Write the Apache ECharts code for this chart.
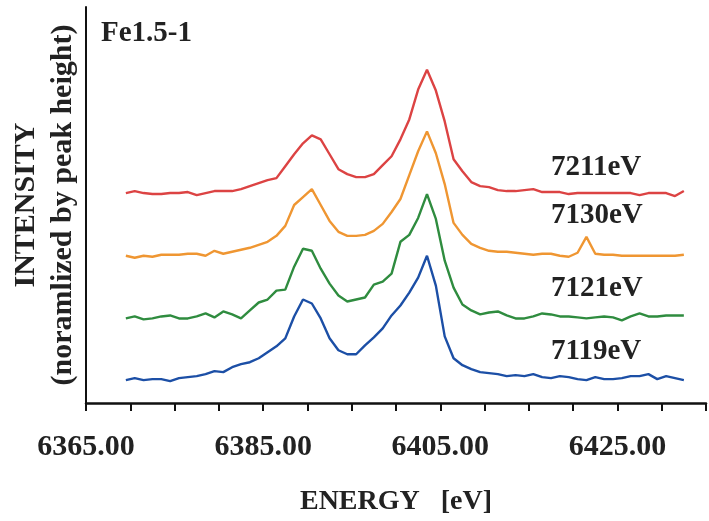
<!DOCTYPE html>
<html>
<head>
<meta charset="utf-8">
<title>Fe1.5-1</title>
<script src="https://cdn.jsdelivr.net/npm/echarts@6/dist/echarts.min.js"></script>
<style>
  html, body { margin: 0; padding: 0; background: #fff; }
  #chart { width: 709px; height: 521px; }
</style>
</head>
<body>
<div id="chart"></div>
<script>
// energy grid (eV)
const energy = [
  6369.5, 6370.5, 6371.5, 6372.5, 6373.5, 6374.5, 6375.5, 6376.5, 6377.5, 6378.5,
  6379.5, 6380.5, 6381.5, 6382.5, 6383.5, 6384.5, 6385.5, 6386.5, 6387.5, 6388.5,
  6389.5, 6390.5, 6391.5, 6392.5, 6393.5, 6394.5, 6395.5, 6396.5, 6397.5, 6398.5,
  6399.5, 6400.5, 6401.5, 6402.5, 6403.5, 6404.5, 6405.5, 6406.5, 6407.5, 6408.5,
  6409.5, 6410.5, 6411.5, 6412.5, 6413.5, 6414.5, 6415.5, 6416.5, 6417.5, 6418.5,
  6419.5, 6420.5, 6421.5, 6422.5, 6423.5, 6424.5, 6425.5, 6426.5, 6427.5, 6428.5,
  6429.5, 6430.5, 6431.5, 6432.5
];

// stacked intensities (already offset), one array per excitation energy
const i7211 = [
  2.11, 2.13, 2.11, 2.10, 2.10, 2.11, 2.11, 2.12, 2.09, 2.11,
  2.13, 2.13, 2.13, 2.15, 2.18, 2.21, 2.24, 2.26, 2.38, 2.50,
  2.61, 2.69, 2.65, 2.50, 2.35, 2.30, 2.27, 2.27, 2.30, 2.39,
  2.48, 2.65, 2.85, 3.15, 3.35, 3.14, 2.83, 2.45, 2.33, 2.22,
  2.18, 2.17, 2.14, 2.13, 2.13, 2.14, 2.15, 2.12, 2.12, 2.12,
  2.10, 2.11, 2.11, 2.11, 2.11, 2.11, 2.11, 2.11, 2.09, 2.11,
  2.11, 2.11, 2.08, 2.13
];
const i7130 = [
  1.48, 1.46, 1.48, 1.47, 1.49, 1.49, 1.49, 1.50, 1.50, 1.48,
  1.53, 1.50, 1.52, 1.54, 1.56, 1.59, 1.62, 1.68, 1.78, 1.99,
  2.07, 2.15, 1.99, 1.83, 1.72, 1.68, 1.68, 1.69, 1.73, 1.80,
  1.92, 2.05, 2.29, 2.53, 2.73, 2.51, 2.20, 1.81, 1.69, 1.60,
  1.56, 1.53, 1.52, 1.52, 1.51, 1.50, 1.49, 1.50, 1.50, 1.48,
  1.47, 1.51, 1.67, 1.50, 1.49, 1.49, 1.48, 1.48, 1.48, 1.48,
  1.48, 1.48, 1.48, 1.49
];
const i7121 = [
  0.85, 0.87, 0.84, 0.85, 0.87, 0.88, 0.85, 0.85, 0.87, 0.90,
  0.86, 0.92, 0.89, 0.85, 0.93, 1.01, 1.04, 1.13, 1.14, 1.37,
  1.55, 1.53, 1.35, 1.20, 1.08, 1.02, 1.04, 1.06, 1.19, 1.22,
  1.30, 1.62, 1.69, 1.86, 2.10, 1.85, 1.43, 1.16, 0.99, 0.93,
  0.89, 0.91, 0.92, 0.88, 0.85, 0.85, 0.87, 0.90, 0.89, 0.87,
  0.87, 0.86, 0.85, 0.86, 0.87, 0.86, 0.83, 0.87, 0.90, 0.87,
  0.87, 0.88, 0.88, 0.88
];
const i7119 = [
  0.23, 0.25, 0.23, 0.24, 0.24, 0.22, 0.25, 0.26, 0.27, 0.29,
  0.32, 0.31, 0.36, 0.39, 0.41, 0.45, 0.51, 0.57, 0.65, 0.87,
  1.04, 1.00, 0.85, 0.65, 0.53, 0.49, 0.49, 0.58, 0.66, 0.75,
  0.88, 0.98, 1.11, 1.26, 1.48, 1.18, 0.67, 0.45, 0.38, 0.34,
  0.31, 0.30, 0.29, 0.27, 0.28, 0.27, 0.29, 0.26, 0.25, 0.27,
  0.26, 0.24, 0.23, 0.26, 0.24, 0.24, 0.25, 0.27, 0.27, 0.29,
  0.24, 0.27, 0.25, 0.23
];

const seriesNames = ["7119eV", "7121eV", "7130eV", "7211eV"];
const seriesColors = ["#1c4fa6", "#2f8c3f", "#ef9632", "#dc4343"];
const seriesValues = [i7119, i7121, i7130, i7211];

const serif = '"Liberation Serif", "Times New Roman", serif';

let chart = echarts.init(document.getElementById("chart"));

let series = seriesValues.map(function (vals, i) {
    return {
        name: seriesNames[i],
        type: "line",
        data: energy.map(function (e, j) { return [e, vals[j]]; }),
        showSymbol: false,
        lineStyle: { color: seriesColors[i], width: 2.4 },
        itemStyle: { color: seriesColors[i] },
    };
});

// curve labels on the right
const labelY = [351, 288, 215, 167];
let labels = seriesNames.map(function (n, i) {
    return {
        type: "text",
        left: 551,
        top: labelY[i] - 14,
        style: {
            text: n,
            font: "bold 29px " + serif,
            fill: "#222",
        },
    };
});

chart.setOption({
    animation: false,
    backgroundColor: "#fff",
    title: {
        text: "Fe1.5-1",
        left: 101,
        top: 19,
        padding: 0,
        textStyle: {
            fontFamily: serif,
            fontWeight: "bold",
            fontSize: 29,
            color: "#222",
        },
    },
    grid: {
        left: 82,
        right: -5,
        top: 7,
        bottom: 116,
        containLabel: false,
    },
    xAxis: {
        type: "value",
        min: 6365,
        max: 6435,
        interval: 5,
        name: "ENERGY   [eV]",
        nameLocation: "middle",
        nameGap: 85,
        nameTextStyle: {
            fontFamily: serif,
            fontWeight: "bold",
            fontSize: 28,
            color: "#222",
        },
        axisLine: { lineStyle: { color: "#111", width: 2.5 } },
        axisTick: { show: true, length: 8, lineStyle: { color: "#111", width: 2 } },
        axisLabel: {
            margin: 29,
            fontFamily: serif,
            fontWeight: "bold",
            fontSize: 30,
            color: "#222",
            formatter: function (v) {
                return (v - 6365) % 20 === 0 ? v.toFixed(2) : "";
            },
        },
        splitLine: { show: false },
    },
    yAxis: {
        type: "value",
        min: 0,
        max: 3.98,
        name: "INTENSITY\n(noramlized by peak height)",
        nameLocation: "middle",
        nameGap: 4,
        nameTextStyle: {
            fontFamily: serif,
            fontWeight: "bold",
            fontSize: 30,
            lineHeight: 37,
            color: "#222",
        },
        axisLine: { show: true, lineStyle: { color: "#111", width: 2 } },
        axisTick: { show: false },
        axisLabel: { show: false },
        splitLine: { show: false },
    },
    graphic: labels,
    series: series,
});
</script>
</body>
</html>
